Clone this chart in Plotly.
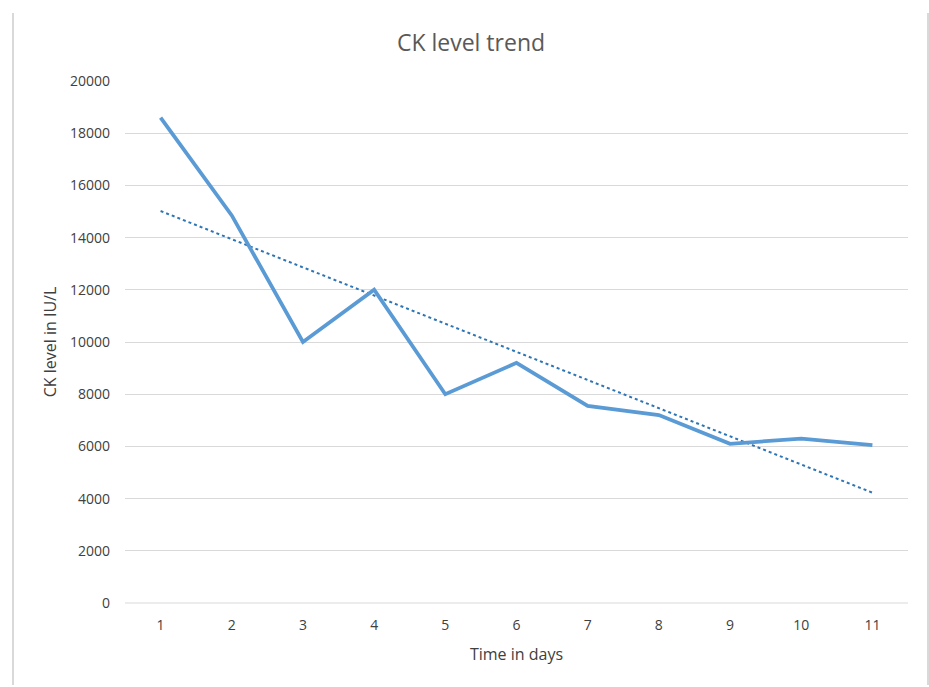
import numpy as np
import plotly.graph_objects as go

days = [1, 2, 3, 4, 5, 6, 7, 8, 9, 10, 11]
ck_level = [18600, 14850, 10000, 12000, 8000, 9200, 7550, 7200, 6100, 6300, 6050]
y_ticks = [0, 2000, 4000, 6000, 8000, 10000, 12000, 14000, 16000, 18000, 20000]

# linear trendline derived from the data
slope, intercept = np.polyfit(days, ck_level, 1)
trend = [slope * d + intercept for d in days]

W, H = 929, 687
L, R, T, B = 125, 21, 81, 84
pw, ph = W - L - R, H - T - B

fig = go.Figure()
fig.add_trace(go.Scatter(x=days, y=trend, mode="lines",
                         line=dict(color="#2e75b6", width=2, dash="dot"),
                         hoverinfo="skip", showlegend=False))
fig.add_trace(go.Scatter(x=days, y=ck_level, mode="lines",
                         line=dict(color="#5b9bd5", width=3.8),
                         showlegend=False))

font = "Open Sans, Noto Sans, sans-serif"
fig.update_layout(
    width=W, height=H,
    margin=dict(l=L, r=R, t=T, b=B),
    paper_bgcolor="white", plot_bgcolor="white",
    title=dict(text="CK level trend", x=(471 - L) / pw, xref="paper", xanchor="center",
               y=1 - 43 / H, yanchor="middle",
               font=dict(family=font, size=23, color="#595959")),
    xaxis=dict(range=[0.5, 11.5], tickvals=days, ticktext=[str(d) for d in days],
               showgrid=False, zeroline=False, showline=False, ticks="",
               tickfont=dict(family=font, size=14, color="#404040"),
               ticklabelstandoff=12,
               title=dict(text="Time in days", standoff=15,
                          font=dict(family=font, size=16, color="#404040"))),
    yaxis=dict(range=[0, 20000], tickvals=y_ticks, ticktext=[str(v) for v in y_ticks],
               showgrid=True, gridcolor="#d9d9d9", gridwidth=1,
               zeroline=False, showline=False, ticks="",
               tickfont=dict(family=font, size=14, color="#404040"),
               ticklabelstandoff=14,
               title=dict(text="CK level in IU/L", standoff=9,
                          font=dict(family=font, size=16, color="#404040"))),
    shapes=[
        dict(type="line", xref="paper", yref="paper",
             x0=(13 - L) / pw, x1=(13 - L) / pw, y0=(H - B - 685) / ph, y1=(H - B - 13) / ph,
             line=dict(color="#d9d9d9", width=2)),
        dict(type="line", xref="paper", yref="paper",
             x0=(928 - L) / pw, x1=(928 - L) / pw, y0=(H - B - 685) / ph, y1=(H - B - 13) / ph,
             line=dict(color="#d9d9d9", width=2)),
        dict(type="line", xref="paper", yref="paper",
             x0=0, x1=1, y0=0, y1=0, line=dict(color="#d9d9d9", width=1), layer="below"),
    ],
)

fig.write_html("out.html", config={"displayModeBar": False},
               post_script="document.body.style.margin='0';document.body.style.overflow='hidden';")
